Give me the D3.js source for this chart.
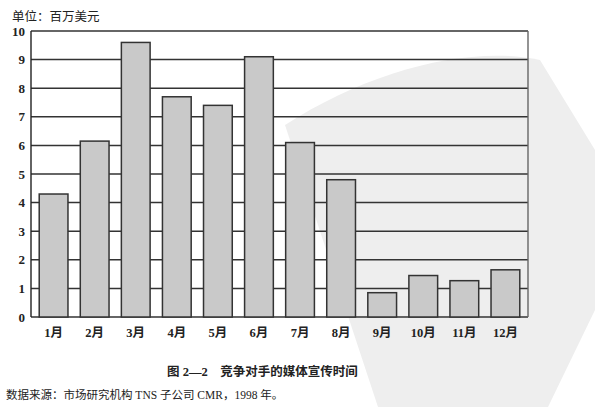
<!DOCTYPE html>
<html>
<head>
<meta charset="utf-8">
<script src="https://cdn.jsdelivr.net/npm/d3@7"></script>
<style>
  body { margin: 0; background: #fff; }
  svg { display: block; }
</style>
</head>
<body>
<div id="chart"></div>
<script>
// 月份與數值 (百萬美元)
const months = ["1月", "2月", "3月", "4月", "5月", "6月", "7月", "8月", "9月", "10月", "11月", "12月"];
const spend = [4.3, 6.15, 9.6, 7.7, 7.4, 9.1, 6.1, 4.8, 0.85, 1.45, 1.27, 1.65];
const yTicks = [0, 1, 2, 3, 4, 5, 6, 7, 8, 9, 10];

const unitLabel = "单位：百万美元";
const figTitle = "图 2—2    竞争对手的媒体宣传时间";
const sourceNote = "数据来源：市场研究机构 TNS 子公司 CMR，1998 年。";

const width = 595, height = 407;
const margin = { top: 31, right: 67, bottom: 90, left: 31 };

const svg = d3.select("#chart").append("svg")
  .attr("width", width)
  .attr("height", height)
  .attr("viewBox", [0, 0, width, height]);

// 背景浮水印 (淡灰)
svg.append("path")
  .attr("d", "M285,125 C370,70 470,45 540,60 L595,150 L595,310 L548,407 L378,407 Z")
  .attr("fill", "#eeeeee");

const x = d3.scaleBand()
  .domain(months)
  .range([margin.left, width - margin.right])
  .paddingInner(0.3)
  .paddingOuter(0.2);

const y = d3.scaleLinear()
  .domain([0, 10])
  .range([height - margin.bottom, margin.top]);

const serif = "'Liberation Serif', 'Noto Sans CJK SC', serif";

// 格線
svg.append("g")
  .selectAll("line")
  .data(yTicks)
  .join("line")
  .attr("x1", margin.left)
  .attr("x2", width - margin.right)
  .attr("y1", d => y(d))
  .attr("y2", d => y(d))
  .attr("stroke", "#333")
  .attr("stroke-width", 1.5);

// 左右邊框
svg.append("g")
  .selectAll("line")
  .data([margin.left, width - margin.right])
  .join("line")
  .attr("x1", d => d)
  .attr("x2", d => d)
  .attr("y1", y(10))
  .attr("y2", y(0))
  .attr("stroke", d => d === margin.left ? "#222" : "#666")
  .attr("stroke-width", 1.4);

// 長條
svg.append("g")
  .selectAll("rect")
  .data(months.map((m, i) => ({ m, v: spend[i] })))
  .join("rect")
  .attr("x", d => x(d.m))
  .attr("y", d => y(d.v))
  .attr("width", x.bandwidth())
  .attr("height", d => y(0) - y(d.v))
  .attr("fill", "#c9c9c9")
  .attr("stroke", "#333")
  .attr("stroke-width", 1.5);

// Y 軸刻度
svg.append("g")
  .selectAll("text")
  .data(yTicks)
  .join("text")
  .attr("x", 25)
  .attr("y", d => y(d))
  .attr("dy", "0.35em")
  .attr("text-anchor", "end")
  .attr("font-family", serif)
  .attr("font-weight", "bold")
  .attr("font-size", 13)
  .attr("fill", "#222")
  .text(d => d);

// X 軸標籤
svg.append("g")
  .selectAll("text")
  .data(months)
  .join("text")
  .attr("x", d => x(d) + x.bandwidth() / 2)
  .attr("y", 333)
  .attr("dy", "0.35em")
  .attr("text-anchor", "middle")
  .attr("font-family", serif)
  .attr("font-weight", "bold")
  .attr("font-size", 12.5)
  .attr("fill", "#222")
  .text(d => d);

// 單位
svg.append("text")
  .attr("x", 12)
  .attr("y", 17)
  .attr("dy", "0.35em")
  .attr("font-family", serif)
  .attr("font-size", 12.5)
  .attr("fill", "#222")
  .text(unitLabel);

// 圖標題
svg.append("text")
  .attr("x", 167)
  .attr("y", 372)
  .attr("dy", "0.35em")
  .attr("font-family", serif)
  .attr("font-weight", "bold")
  .attr("font-size", 12.5)
  .attr("fill", "#222")
  .attr("xml:space", "preserve")
  .style("white-space", "pre")
  .text(figTitle);

// 資料來源
svg.append("text")
  .attr("x", 6)
  .attr("y", 395)
  .attr("dy", "0.35em")
  .attr("font-family", serif)
  .attr("font-size", 11.5)
  .attr("fill", "#222")
  .text(sourceNote);
</script>
</body>
</html>
